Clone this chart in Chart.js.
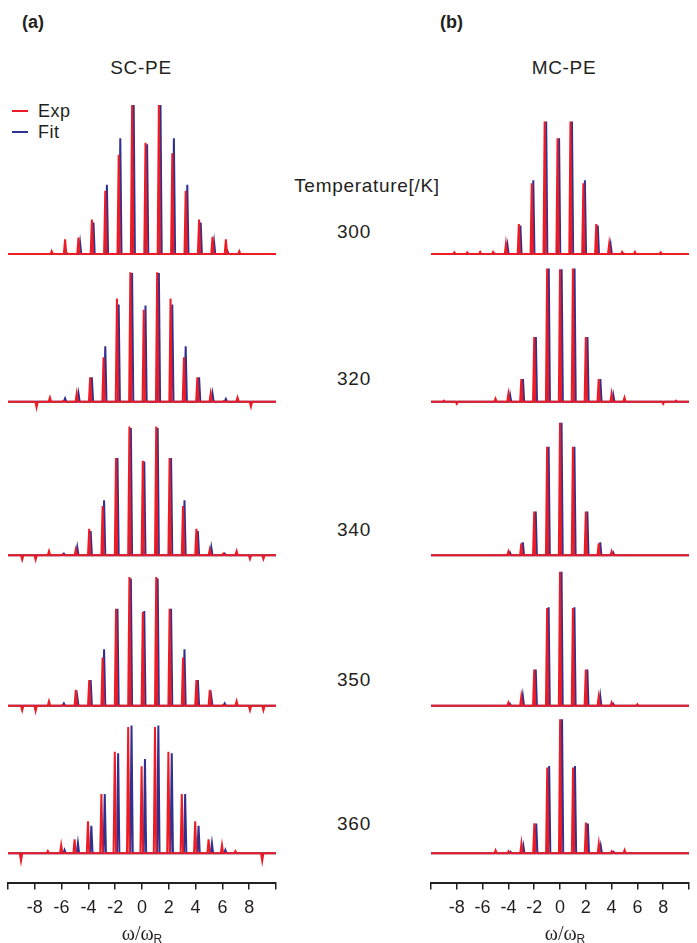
<!DOCTYPE html>
<html>
<head>
<meta charset="utf-8">
<script src="https://cdn.jsdelivr.net/npm/chart.js@4"></script>
<style>
    body { margin: 0; background: #fff; }
    #page { position: relative; width: 697px; height: 943px; overflow: hidden;
            font-family: "Liberation Sans", Arial, sans-serif; color: #231f20; }
    .txt { position: absolute; font-size: 19px; white-space: nowrap; transform: translate(-50%, -50%); letter-spacing: 0.7px; }
    .lbl { position: absolute; font-size: 18px; font-weight: bold; transform: translateY(-50%); }
    .leg { position: absolute; font-size: 18px; transform: translateY(-50%); letter-spacing: 0.5px; }
    .legline { position: absolute; width: 16px; height: 2px; }
    .axtitle { position: absolute; transform: translate(-50%, -50%); font-family: "Liberation Serif", "Times New Roman", serif; font-size: 20px; white-space: nowrap; }
    .axtitle sub { font-family: "Liberation Sans", Arial, sans-serif; font-size: 12px; vertical-align: -3px; }
    .box { position: absolute; top: 90px; height: 837px; }
</style>
</head>
<body>
<div id="page">
    <div class="lbl" style="left:22px; top:22px;">(a)</div>
    <div class="lbl" style="left:440px; top:22px;">(b)</div>
    <div class="txt" style="left:141px; top:68px;">SC-PE</div>
    <div class="txt" style="left:564px; top:68px;">MC-PE</div>

    <div class="legline" style="left:12px; top:110px; background:#ed1c24;"></div>
    <div class="leg" style="left:38px; top:111px;">Exp</div>
    <div class="legline" style="left:12px; top:131px; background:#2e3192;"></div>
    <div class="leg" style="left:38px; top:132px;">Fit</div>

    <div class="txt" style="left:367px; top:186px;">Temperature[/K]</div>
    <div id="temps"></div>

    <div class="box" style="left:0; width:290px;"><canvas id="scChart"></canvas></div>
    <div class="box" style="left:420px; width:277px;"><canvas id="mcChart"></canvas></div>

    <div class="axtitle" style="left:142px; top:934px;">ω/ω<sub>R</sub></div>
    <div class="axtitle" style="left:565px; top:934px;">ω/ω<sub>R</sub></div>
</div>

<script>
// Zijbanden (ω/ωR), van -9 t/m 9
const sidebands = [-9, -8, -7, -6, -5, -4, -3, -2, -1, 0, 1, 2, 3, 4, 5, 6, 7, 8, 9];
const temperatures = [300, 320, 340, 350, 360];
const xTicks = [-10, -8, -6, -4, -2, 0, 2, 4, 6, 8, 10];

// SC-PE: piekhoogtes per zijband (rij-afstand = 100)
const scExp300 = [0, 0, 2, 9.8, 11, 23, 42, 66, 99, 74, 99, 67, 42, 23, 11.5, 9.8, 2, 0, 0];
const scFit300 = [0, 0, 0, 0.7, 7.5, 21, 46, 77, 99, 73, 99, 77, 46, 21, 7.8, 2, 0, 0, 0];
const scExp320 = [0, -3.8, 2.7, 0.5, 5.5, 16.2, 29.5, 68.5, 86, 61, 86, 68.5, 29.5, 16.2, 5.5, 0.5, 2.7, -3.3, 0];
const scFit320 = [0, 0, 0, 2.2, 5.5, 16.2, 36.7, 64.5, 85.5, 63.8, 85.5, 64.5, 36.7, 16.2, 5.5, 1.8, 0, 0, 0];
const scExp340 = [-3, -3, 2.7, 0.5, 3.8, 17.5, 32.7, 64.5, 85.5, 62.7, 85.5, 64.5, 32.7, 17.5, 3.8, 1, 2.7, -2.5, -2.5];
const scFit340 = [0, 0, 0, 1, 5.3, 16, 36.5, 64.5, 84.5, 62.2, 84.5, 64.5, 36.5, 16, 5.3, 1, 0, 0, 0];
const scExp350 = [-3, -3.5, 3, 0.5, 10.5, 17, 32, 64.5, 85.5, 62.2, 85.5, 64.5, 32, 17, 10.5, 0.5, 3, -3, -3];
const scFit350 = [0, 0, 0, 1.5, 6, 17, 37.5, 64.5, 84.5, 63, 84.5, 64.5, 37.5, 17, 6, 1.5, 0, 0, 0];
const scExp360 = [-5, 0, 1.5, 5.5, 9.3, 21.3, 39.3, 67.5, 83.8, 57.8, 83.8, 67.5, 39.3, 21.3, 9.3, 5.5, 1.5, 0, -5];
const scFit360 = [0, 0, 0, 2.2, 6.7, 18.2, 39.3, 66.5, 84.9, 62.7, 84.9, 66.5, 39.3, 18.2, 6.7, 2.2, 0, 0, 0];
// verschuiving van de pieken t.o.v. gehele zijbanden
const scShiftExp = [0.26, 0.13, 0.06, 0.06, -0.03];
const scShiftFit = [0.38, 0.26, 0.17, 0.17, 0.22];

// MC-PE
const mcExp300 = [0, 1.2, 1.2, 1.5, 1.5, 6.7, 20, 47, 88, 77, 88, 47, 20, 6.7, 1.5, 1.5, 0, 1.2, 0];
const mcFit300 = [0, 0, 0, 0, 0.5, 5.8, 19, 49, 88, 77, 88, 49, 19, 6, 0.5, 0, 0, 0, 0];
const mcExp320 = [0.7, -1.5, 0, 0, 2, 5.3, 15, 43, 88.5, 88, 88.5, 43, 15, 5.3, 2.7, 0, 0, -1.5, 0.7];
const mcFit320 = [0, 0, 0, 0, 0, 4.5, 15, 43, 88.5, 88, 88.5, 43, 15, 4.5, 0, 0, 0, 0, 0];
const mcExp340 = [0, 0, 0, 0, 0, 2.5, 7.8, 29, 72, 88, 72, 29, 7.8, 2.5, 0, 0, 0, 0, 0];
const mcFit340 = [0, 0, 0, 0, 0, 1.8, 8.5, 29, 72, 88, 72, 29, 8.5, 1.8, 0, 0, 0, 0, 0];
const mcExp350 = [0, 0, 0, 0, 0, 2.2, 6, 24, 65, 89, 65, 24, 6, 2.2, 0, 1, 0, 0, 0];
const mcFit350 = [0, 0, 0, 0, 0, 1.3, 6.5, 24, 65.5, 89, 65.5, 24, 6.5, 1.3, 0, 0, 0, 0, 0];
const mcExp360 = [0, 0, 0, 0, 2, 1.3, 6.5, 20, 57, 89, 57, 20.5, 6.5, 1.3, 2.2, 0, 0, 0, 0];
const mcFit360 = [0, 0, 0, 0, 0, 1, 4.9, 19.8, 58, 89, 58, 19.8, 4.9, 1, 0, 0, 0, 0, 0];
const mcShiftExp = [-0.19, 0, 0, 0, 0.01];
const mcShiftFit = [-0.07, 0.13, 0.12, 0.12, 0.16];

// Layout: basislijn van elke rij (boven naar beneden)
const rowBase = [398, 300, 198, 98, 0];
const peakHalfWidth = 0.09;
const expColor = '#ed1c24';
const fitColor = '#2e3192';
const fontFamily = '"Liberation Sans", Arial, sans-serif';

/**
 * Zet piekhoogtes om naar punten voor een lijn
 */
function buildTrace(heights, shift, base) {
    const pts = [{ x: -10, y: base }];
    sidebands.forEach(function(k, i) {
        const h = heights[i];
        if (!h) return;
        const c = k + shift;
        pts.push({ x: c - peakHalfWidth, y: base });
        pts.push({ x: c, y: base + h });
        pts.push({ x: c + peakHalfWidth, y: base });
    });
    pts.push({ x: 10, y: base });
    return pts;
}

function createStackChart(elementId, expRows, fitRows, shiftExp, shiftFit, padLeft, padRight) {
    const datasets = [];
    expRows.forEach(function(row, i) {
        datasets.push({
            label: 'Exp ' + temperatures[i],
            data: buildTrace(row, shiftExp[i], rowBase[i]),
            borderColor: expColor,
            borderWidth: 2,
            order: 1
        });
    });
    fitRows.forEach(function(row, i) {
        datasets.push({
            label: 'Fit ' + temperatures[i],
            data: buildTrace(row, shiftFit[i], rowBase[i]),
            borderColor: fitColor,
            borderWidth: 2,
            order: 2
        });
    });

    const ctx = document.getElementById(elementId).getContext('2d');
    new Chart(ctx, {
        type: 'line',
        data: { datasets: datasets },
        options: {
            responsive: true,
            maintainAspectRatio: false,
            animation: false,
            events: [],
            layout: { padding: { left: padLeft, right: padRight, top: 0, bottom: 0 } },
            elements: {
                point: { radius: 0 },
                line: { tension: 0 }
            },
            plugins: {
                legend: { display: false },
                tooltip: { enabled: false }
            },
            scales: {
                x: {
                    type: 'linear',
                    min: -10,
                    max: 10,
                    afterBuildTicks: function(axis) {
                        axis.ticks = xTicks.map(function(v) { return { value: v }; });
                    },
                    ticks: {
                        autoSkip: false,
                        maxRotation: 0,
                        padding: 8,
                        color: '#231f20',
                        font: { size: 18, family: fontFamily },
                        callback: function(value) {
                            return (value === -10 || value === 10) ? '' : String(value);
                        }
                    },
                    grid: {
                        drawOnChartArea: false,
                        drawTicks: true,
                        tickLength: 6,
                        color: '#231f20',
                        lineWidth: 1.5
                    },
                    border: { display: true, color: '#231f20', width: 2 }
                },
                y: {
                    display: false,
                    min: -20,
                    max: 507
                }
            }
        }
    });
}

// Temperatuur-labels
const tempY = [232, 379, 530, 680, 824];
const tempBox = document.getElementById('temps');
temperatures.forEach(function(t, i) {
    const d = document.createElement('div');
    d.className = 'txt';
    d.style.left = '354px';
    d.style.top = tempY[i] + 'px';
    d.textContent = t;
    tempBox.appendChild(d);
});

createStackChart('scChart',
    [scExp300, scExp320, scExp340, scExp350, scExp360],
    [scFit300, scFit320, scFit340, scFit350, scFit360],
    scShiftExp, scShiftFit, 7, 14);
createStackChart('mcChart',
    [mcExp300, mcExp320, mcExp340, mcExp350, mcExp360],
    [mcFit300, mcFit320, mcFit340, mcFit350, mcFit360],
    mcShiftExp, mcShiftFit, 11, 0);
</script>
</body>
</html>
